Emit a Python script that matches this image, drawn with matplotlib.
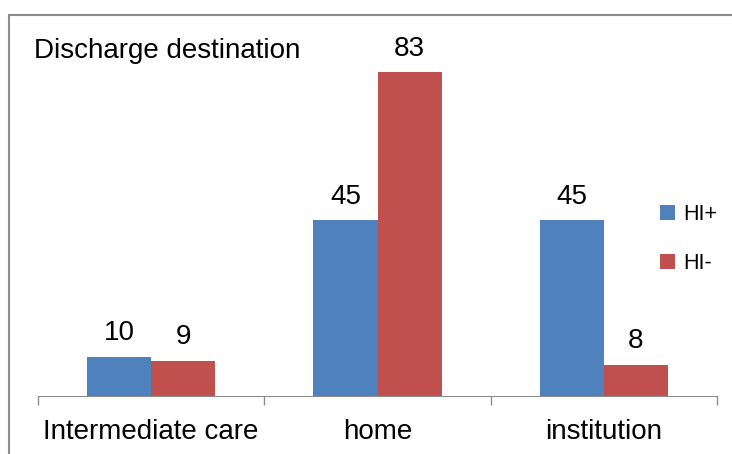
import numpy as np
import matplotlib.pyplot as plt
from matplotlib.patches import Rectangle

plt.rcParams['font.family'] = ['Liberation Sans', 'DejaVu Sans']

categories = ['Intermediate care', 'home', 'institution']
hi_pos = [10, 45, 45]
hi_neg = [9, 83, 8]
series_names = ['HI+', 'HI-']
colors = ['#4F81BD', '#C0504D']

W, H = 732, 454
fig = plt.figure(figsize=(W / 100, H / 100), dpi=100)

# chart frame (only top and left edges fall inside the image)
fig.add_artist(Rectangle((9 / W, -0.1), 1.0, 1.1 - 15 / H,
                         transform=fig.transFigure, fill=False,
                         edgecolor='#8C8C8C', linewidth=1.5))

ax = fig.add_axes([38 / W, 58 / H, 679 / W, 351 / H])
x = np.arange(len(categories))
w = 0.283
ax.bar(x - w / 2, hi_pos, w, color=colors[0], label=series_names[0])
ax.bar(x + w / 2, hi_neg, w, color=colors[1], label=series_names[1])

for offs, vals in ((-w / 2, hi_pos), (w / 2, hi_neg)):
    for xi, v in zip(x, vals):
        ax.annotate(str(v), (xi + offs, v), xytext=(0, 12), textcoords='offset points',
                    ha='center', va='baseline', fontsize=20)

ax.set_xlim(-0.5, len(categories) - 0.5)
ax.set_ylim(0, 90)
for side in ['top', 'right', 'left']:
    ax.spines[side].set_visible(False)
ax.spines['bottom'].set_color('#8C8C8C')
ax.set_yticks([])
ax.set_xticks(np.arange(len(categories) + 1) - 0.5)
ax.set_xticklabels([])
ax.tick_params(axis='x', length=6.5, color='#8C8C8C', width=1)

for xi, name in zip(x, categories):
    ax.text(xi, -43 / 351, name, transform=ax.get_xaxis_transform(),
            ha='center', va='baseline', fontsize=20)

fig.text(34 / W, 1 - 58 / H, 'Discharge destination', fontsize=20,
         ha='left', va='baseline')

ax.legend(loc='center left', bbox_to_anchor=(660 / W, 1 - 239 / H),
          bbox_transform=fig.transFigure, frameon=False, fontsize=15.5,
          handlelength=0.7, handleheight=0.7, handletextpad=0.4,
          labelspacing=1.3, borderpad=0, borderaxespad=0)

fig.savefig('out.png', dpi=100)
